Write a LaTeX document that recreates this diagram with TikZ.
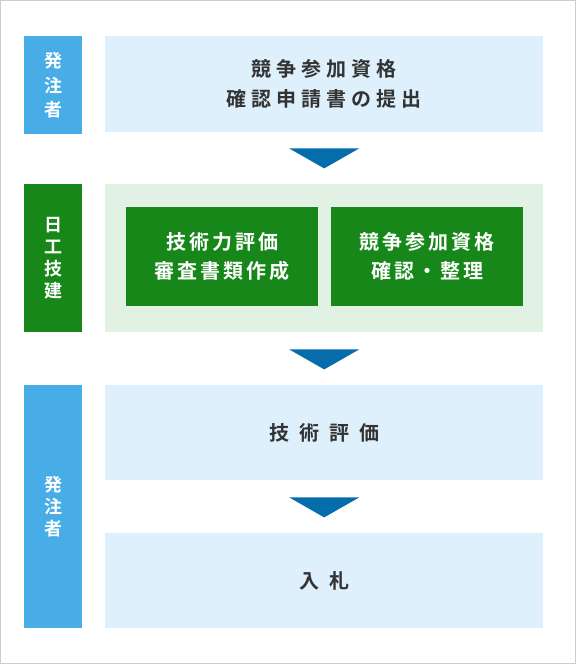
\documentclass[tikz,border=0pt]{standalone}
\usepackage{fontspec}
\usetikzlibrary{calc}
\newfontfamily\cjk{Noto Sans CJK JP Bold}
\definecolor{labelblue}{HTML}{48ACE6}
\definecolor{lightblue}{HTML}{DEF0FC}
\definecolor{darkgreen}{HTML}{168718}
\definecolor{lightgreen}{HTML}{E1F2E4}
\definecolor{arrowblue}{HTML}{066DAD}
\definecolor{textdark}{HTML}{333333}
\definecolor{framegray}{HTML}{CCCCCC}
\makeatletter
\newcommand\spaced[2]{\def\sp@first{1}\@tfor\sp@c:=#2\do{\ifx\sp@first\empty\kern#1\fi\def\sp@first{}\sp@c}}
\makeatother
\begin{document}
\begin{tikzpicture}[x=1pt,y=-1pt,
  boxbase/.style={draw=none,inner sep=0pt,anchor=north west},
  sidelabel/.style={boxbase,fill=#1,minimum width=58pt,text=white,align=center,font=\cjk\fontsize{18}{22}\selectfont},
  stepbox/.style={boxbase,fill=lightblue,minimum width=438pt,text=textdark,align=center,font=\cjk\fontsize{20}{30}\selectfont},
  innerbox/.style={boxbase,fill=darkgreen,minimum width=192pt,minimum height=99pt,text=white,align=center,font=\cjk\fontsize{20}{29}\selectfont},
  downtri/.style={fill=arrowblue}
]
\useasboundingbox (0,0) rectangle (576,664);
\fill[white] (0,0) rectangle (576,664);
\draw[framegray,line width=1pt] (0.5,0.5) rectangle (575.5,663.5);

% row 1
\node[sidelabel=labelblue,minimum height=98pt,font=\cjk\fontsize{18}{24.5}\selectfont] (l1) at (24,36) {発\\注\\者};
\node[stepbox,minimum height=96pt] (b1) at (105,36) {\spaced{5pt}{競争参加資格}\\\spaced{5pt}{確認申請書の提出}};

% row 2
\node[sidelabel=darkgreen,minimum height=148pt] (l2) at (24,184) {日\\工\\技\\建};
\node[boxbase,fill=lightgreen,minimum width=438pt,minimum height=148pt] (b2) at (105,184) {};
\node[innerbox] (g1) at (126,207) {\spaced{3pt}{技術力評価}\\\spaced{3pt}{審査書類作成}};
\node[innerbox] (g2) at (331,207) {\spaced{3pt}{競争参加資格}\\\spaced{3pt}{確認・整理}};

% row 3
\node[sidelabel=labelblue,minimum height=243pt] (l3) at (24,385) {発\\注\\者};
\node[stepbox,minimum height=95pt] (b3) at (105,385) {\spaced{10pt}{技術評価}};
\node[stepbox,minimum height=95pt] (b4) at (105,533) {\spaced{10pt}{入札}};

% arrows
\fill[downtri] ($(b1.south)+(-35,16)$) -- ++(70,0) -- ++(-35,20) -- cycle;
\fill[downtri] ($(b2.south)+(-35,17)$) -- ++(70,0) -- ++(-35,20) -- cycle;
\fill[downtri] ($(b3.south)+(-35,17)$) -- ++(70,0) -- ++(-35,20) -- cycle;
\end{tikzpicture}
\end{document}
